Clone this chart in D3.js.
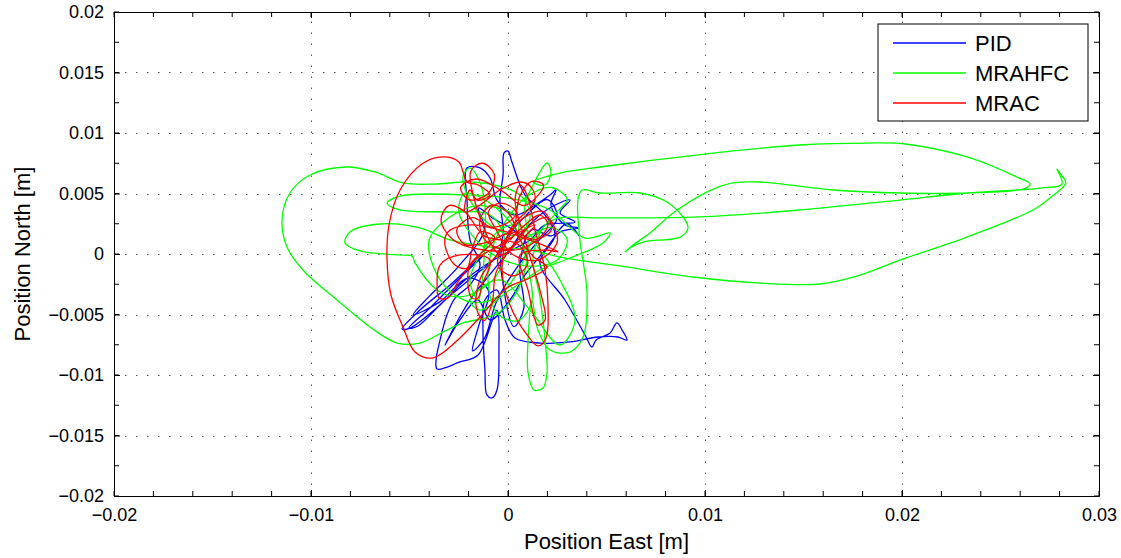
<!DOCTYPE html>
<html>
<head>
<meta charset="utf-8">
<script src="https://d3js.org/d3.v7.min.js"></script>
<style>
    body { margin: 0; background: #fff; }
    text { font-family: "Liberation Sans", Arial, Helvetica, sans-serif; fill: #000; }
    .gridLine { stroke: #555; stroke-width: 1; stroke-dasharray: 1.5,9.5; }
    .axis path, .axis line { stroke: #000; }
    .trace { fill: none; stroke-width: 1.3; stroke-linejoin: round; }
</style>
</head>
<body>
<script>
//data (position east, position north) in metres
var seriesNames = ["PID", "MRAHFC", "MRAC"];
var seriesColors = ["#0000ff", "#00ff00", "#ff0000"];

var xTicks = [-0.02, -0.01, 0, 0.01, 0.02, 0.03];
var yTicks = [-0.02, -0.015, -0.01, -0.005, 0, 0.005, 0.01, 0.015, 0.02];

var pidPath = [
    [0, 0], [0.00061, 0.00157], [0.00162, 0.00322], [0.00239, 0.00405], [0.00315, 0.00446],
    [0.00264, 0.00339], [0.0034, 0.00264], [0.00188, 0.0024], [0.00112, 0.00116], [0.0002, 0.00033],
    [-0.00091, -0.00066], [-0.00218, -0.00215], [-0.00345, -0.00421], [-0.00497, -0.00612], [-0.00538, -0.0062],
    [-0.00447, -0.00463], [-0.00294, -0.00256], [-0.00168, -0.00066], [-0.00127, -0.00017], [-0.00244, -0.00198],
    [-0.00396, -0.00446], [-0.00503, -0.00612], [-0.00457, -0.00595], [-0.0032, -0.0038], [-0.00168, -0.00174],
    [-0.00066, -0.00033], [-0.00025, 0.00157], [-0.00041, 0.00446], [-0.00025, 0.00653], [-0.0002, 0.00835],
    [0, 0.00851], [0.0002, 0.0076], [0.00086, 0.00488], [0.00188, 0.00322], [0.00239, 0.00157],
    [0.00162, -0.00074], [0.00289, -0.0038], [0.00391, -0.00669], [0.00426, -0.00769], [0.00447, -0.00711],
    [0.00518, -0.00653], [0.00553, -0.0057], [0.00579, -0.00628], [0.00604, -0.00711], [0.00558, -0.00686],
    [0.00457, -0.00686], [0.00315, -0.00727], [0.00162, -0.00736], [0.00036, -0.00694], [-0.00015, -0.00545],
    [-0.00056, -0.00298], [-0.00117, -0.0038], [-0.00127, -0.00628], [-0.00117, -0.00959], [-0.00107, -0.01165],
    [-0.00081, -0.0119], [-0.00056, -0.01124], [-0.00046, -0.00793], [-0.00056, -0.00463], [-0.00152, -0.00835],
    [-0.00244, -0.00892], [-0.0036, -0.0095], [-0.00365, -0.00876], [-0.00345, -0.00711], [-0.0031, -0.00504],
    [-0.00269, -0.00364], [-0.00193, -0.00256], [-0.00142, -0.00091], [-0.00193, 0.00116], [-0.00208, 0.00446],
    [-0.00208, 0.00711], [-0.00142, 0.00711], [-0.00091, 0.00628], [-0.00056, 0.00446], [0.00036, 0.00322],
    [0.00137, 0.00405], [0.00213, 0.00488], [0.00244, 0.00529], [0.00218, 0.00405], [0.00289, 0.0024],
    [0.00355, 0.00215], [0.00264, 0.00182], [0.00188, 0.00033], [0.00086, -0.00174], [0.0001, -0.0038],
    [-0.00091, -0.00545], [-0.00152, -0.0038], [-0.00244, -0.00545], [-0.0032, -0.00752], [-0.00193, -0.0038],
    [-0.00041, -0.00066], [0.0005, 0.0015], [-0.0008, 0.003], [-0.0015, 0.0038], [-0.0012, 0.002],
    [-0.0025, -0.001], [-0.004, -0.0035], [-0.0048, -0.005], [-0.0035, -0.004], [-0.002, -0.002],
    [-0.001, -0.003], [-0.0015, -0.006], [-0.0018, -0.008], [-0.0012, -0.007], [-0.0006, -0.004],
    [0.0005, -0.001], [0.0015, 0.001], [0.0025, 0.003], [0.002, 0.0045], [0.0008, 0.003],
    [-0.0003, 0.0005], [-0.0002, -0.003], [0.0003, -0.006], [0.0008, -0.0045], [0.0006, -0.001],
    [0.0012, 0.002], [0.0022, 0.0015], [0.003, 0.0025], [0.0036, 0.0015]
];

var mrahfcPath = [
    [0.00061, 0.00116], [0.00112, 0.00322], [0.00061, 0.00488], [-0.00066, 0.0057], [-0.00208, 0.00595],
    [-0.00371, 0.00578], [-0.00533, 0.00587], [-0.00675, 0.00678], [-0.00817, 0.00719], [-0.01005, 0.00653],
    [-0.01107, 0.00504], [-0.01147, 0.00281], [-0.01122, 0.00058], [-0.01041, -0.00132], [-0.00868, -0.0038],
    [-0.007, -0.00603], [-0.00563, -0.00736], [-0.00447, -0.00736], [-0.0033, -0.00645], [-0.00228, -0.0057],
    [-0.00117, -0.00529], [-0.00041, -0.00479], [0.00036, -0.00339], [0.00086, -0.00132], [0.00102, 0.00116],
    [0.00086, 0.00405], [0.00127, 0.0057], [0.00198, 0.00752], [0.00218, 0.00678], [0.00188, 0.0057],
    [0.00127, 0.00595], [0.00264, 0.00669], [0.00467, 0.00719], [0.01, 0.00826], [0.01482, 0.00901],
    [0.01822, 0.00917], [0.02015, 0.00909], [0.0233, 0.00802], [0.02584, 0.00636], [0.0265, 0.00578],
    [0.02614, 0.00537], [0.0233, 0.00504], [0.0199, 0.00504], [0.0165, 0.00529], [0.01279, 0.00595],
    [0.01142, 0.00587], [0.0101, 0.00512], [0.00838, 0.00339], [0.00721, 0.00174], [0.00635, 0.00074],
    [0.00594, 0.00017], [0.00619, 0.0005], [0.00685, 0.00099], [0.00873, 0.0014], [0.00914, 0.00215],
    [0.00888, 0.00306], [0.00807, 0.0043], [0.0067, 0.00504], [0.00467, 0.00504], [0.00376, 0.00529],
    [0.00355, 0.00446], [0.00365, 0.00116], [0.00401, -0.00322], [0.00381, -0.00686], [0.00315, -0.0081],
    [0.00213, -0.00793], [0.00152, -0.00628], [0.00122, -0.0038], [0.00102, -0.00711], [0.00102, -0.00983],
    [0.00132, -0.01124], [0.00178, -0.01107], [0.00198, -0.00983], [0.00188, -0.00711], [0.00162, -0.00355],
    [0.00127, -0.00033], [0.00188, 0.0024], [0.00264, 0.00298], [0.00467, 0.00298], [0.00975, 0.00306],
    [0.01482, 0.00364], [0.0199, 0.00446], [0.0233, 0.00504], [0.02701, 0.00545], [0.02812, 0.00578],
    [0.02787, 0.00702], [0.02812, 0.00645], [0.02832, 0.00587], [0.02751, 0.00463], [0.02665, 0.00364],
    [0.0233, 0.0014], [0.0199, -0.0005], [0.01787, -0.00174], [0.01584, -0.00248], [0.01279, -0.0024],
    [0.00939, -0.0019], [0.00569, -0.00099], [0.00264, -0.00025], [0.00112, 0.00033], [-0.00091, 0.00058],
    [-0.00294, 0.00116], [-0.00447, 0.00215], [-0.0065, 0.00248], [-0.00802, 0.00182], [-0.00827, 0.00091],
    [-0.00751, 0.00025], [-0.00548, -0.00008], [-0.00487, -0.00017], [-0.00472, -0.00074], [-0.0036, -0.00298],
    [-0.00259, -0.00355], [-0.00142, -0.00298], [-0.00041, -0.00132], [-0.00015, 0.00116], [-0.00091, 0.00322],
    [-0.00294, 0.00347], [-0.00548, 0.00364], [-0.00614, 0.00421], [-0.00548, 0.00479], [-0.00208, 0.00488],
    [0.00061, 0.00446], [0.00213, 0.00364], [0.00391, 0.00132], [0.00518, 0.00174], [0.00482, 0.00091],
    [0.00315, -0.00033], [0.00162, -0.00132], [0.0001, -0.00298], [-0.00142, -0.00463], [-0.00193, -0.0038],
    [-0.00041, -0.00215], [0.00112, -0.00463], [0.00264, -0.00752], [0.0034, -0.00545], [0.00264, -0.00215],
    [0.00162, 0.00033], [0.00061, 0.0024], [-0.00041, 0.00198], [-0.00142, -0.00008], [-0.00193, -0.00215],
    [-0.00152, -0.0038], [-0.00117, 0.00405], [-0.00152, 0.00628], [-0.00193, 0.00711], [-0.00228, 0.00645],
    [-0.00193, 0.00446], [-0.00091, 0.0024], [0.00036, 0.00157], [0.0005, 0.003], [-0.0015, 0.004],
    [-0.003, 0.003], [-0.004, 0.0012], [-0.0038, -0.001], [-0.003, -0.003], [-0.0018, -0.004],
    [-0.0005, -0.0035], [0.0005, -0.0015], [0.0012, 0.001], [0.0025, 0.0035], [0.003, 0.0045],
    [0.0022, 0.0055], [0.001, 0.0048], [0, 0.003], [-0.0008, 0.0005], [-0.001, -0.0025],
    [-0.0005, -0.005], [0.0005, -0.0055], [0.0012, -0.004], [0.001, -0.001], [0.0004, 0.002],
    [-0.0012, 0.0045], [-0.0022, 0.005], [-0.0025, 0.0035], [-0.0018, 0.0015], [-0.0006, -0.0002],
    [0.001, -0.001], [0.0025, -0.0005], [0.003, 0.0012], [0.0022, 0.0022], [0.0008, 0.0012]
];

var mracPath = [
    [0.0001, 0.00116], [0.00086, 0.0024], [0.00162, 0.00322], [0.00203, 0.0024], [0.00112, 0.00074],
    [-0.00015, 0.00033], [-0.00117, 0.00116], [-0.00142, 0.00281], [-0.00081, 0.00405], [0.0001, 0.00322],
    [0.00061, 0.00116], [0.00137, -0.00033], [0.00198, -0.00107], [0.00112, -0.00198], [-0.00005, -0.00281],
    [-0.00142, -0.00521], [-0.00244, -0.00694], [-0.00381, -0.00859], [-0.00472, -0.0081], [-0.00533, -0.00603],
    [-0.00594, -0.00339], [-0.00614, -0.0005], [-0.00604, 0.0024], [-0.00548, 0.00529], [-0.00437, 0.00744],
    [-0.0033, 0.00802], [-0.00249, 0.0076], [-0.00228, 0.00678], [-0.00208, 0.00595], [-0.00152, 0.0057],
    [-0.00091, 0.00488], [-0.00157, 0.00446], [-0.00193, 0.00529], [-0.00218, 0.00347], [-0.00142, 0.00405],
    [-0.00041, 0.00529], [0.00061, 0.00595], [0.00112, 0.00562], [0.00137, 0.00446], [0.0001, 0.00198],
    [-0.0003, -0.00132], [0.0001, -0.00421], [0.00097, -0.00669], [0.00152, -0.0076], [0.00193, -0.00694],
    [0.00203, -0.00421], [0.00188, -0.00132], [0.00137, 0.00198], [0.00097, 0.00488], [0.00061, 0.0057],
    [0.00036, 0.00446], [0.00086, 0.00116], [0.00162, -0.00298], [0.00188, -0.00545], [0.00152, -0.00587],
    [0.00102, -0.00298], [0.00061, -0.00008], [0.00188, 0.00033], [0.00254, 0.00017], [0.00162, 0.00083],
    [-0.00041, 0.00198], [-0.00193, 0.0024], [-0.00305, 0.00182], [-0.0032, 0.00074], [-0.00269, -0.00091],
    [-0.00208, -0.00116], [-0.00183, 0.00033], [-0.00142, 0.00182], [-0.00066, 0.00132], [-0.00193, -0.00091],
    [-0.00203, -0.00256], [-0.00183, -0.00364], [-0.00152, -0.00364], [-0.00132, -0.00256], [-0.00091, -0.0005],
    [-0.00244, -0.00008], [-0.00345, -0.00091], [-0.0036, -0.00256], [-0.0035, -0.00364], [-0.00305, -0.00364],
    [-0.00254, -0.00231], [-0.00168, -0.0005], [-0.00041, 0.00074], [0.00061, 0.00182], [0.00137, 0.0024],
    [0.00036, 0.00074], [-0.00041, -0.00008], [-0.0019, 0.0068], [-0.0013, 0.0075], [-0.0007, 0.0066],
    [-0.001, 0.005], [-0.002, 0.0045], [-0.0024, 0.0055], [-0.0016, 0.0062], [-0.0003, 0.0052],
    [0.0008, 0.004], [0.0015, 0.0048], [0.0018, 0.0057], [0.0012, 0.006], [0.0006, 0.0048],
    [0.0003, 0.003], [-0.0008, 0.0022], [-0.0018, 0.003], [-0.0026, 0.002], [-0.0022, 0.0008],
    [-0.001, 0.001], [0.0002, 0.0018], [0.0014, 0.0012], [0.0022, 0.002], [0.0018, 0.0035],
    [0.0008, 0.003], [-0.0002, 0.001], [-0.0005, -0.001], [0.0003, -0.0018], [0.001, -0.0008],
    [0.0005, 0.0008], [-0.0012, 0.0015], [-0.0022, 0.0035], [-0.003, 0.004], [-0.0034, 0.0028],
    [-0.0028, 0.0012], [-0.0015, 0.0004], [0, 0.0004], [0.0012, 0.0025], [0.002, 0.003],
    [0.0025, 0.001], [0.0015, -0.0005], [0.0002, 0], [-0.0006, 0.002], [-0.001, 0.0035],
    [-0.0004, 0.0042], [0.0004, 0.0035], [0, 0.0012], [-0.0014, -0.002], [-0.0016, -0.0045],
    [-0.0012, -0.0055], [-0.0008, -0.004], [-0.0006, -0.0015], [0.0004, 0.001]
];

var allPaths = [pidPath, mrahfcPath, mracPath];

window.onload = setChart();

function setChart(){
    //figure and axes frame
    var width = 1121,
        height = 558,
        left = 114,
        right = 1099,
        top = 12,
        bottom = 496;

    var svg = d3.select("body")
        .append("svg")
        .attr("width", width)
        .attr("height", height);

    var x = d3.scaleLinear().domain([-0.02, 0.03]).range([left, right]);
    var y = d3.scaleLinear().domain([-0.02, 0.02]).range([bottom, top]);

    //minor ticks
    var xMinor = d3.range(-0.02, 0.0301, 0.002).map(function(v){ return +v.toFixed(4); });
    var yMinor = d3.range(-0.02, 0.0201, 0.0025).map(function(v){ return +v.toFixed(4); });

    //dotted grid at major ticks
    svg.selectAll(".gridX")
        .data(xTicks.slice(1, -1))
        .enter()
        .append("line")
        .attr("class", "gridLine")
        .attr("x1", function(d){ return Math.round(x(d)) + 0.5; })
        .attr("x2", function(d){ return Math.round(x(d)) + 0.5; })
        .attr("y1", bottom)
        .attr("y2", top);

    svg.selectAll(".gridY")
        .data(yTicks.slice(1, -1))
        .enter()
        .append("line")
        .attr("class", "gridLine")
        .attr("y1", function(d){ return Math.round(y(d)) + 0.5; })
        .attr("y2", function(d){ return Math.round(y(d)) + 0.5; })
        .attr("x1", left)
        .attr("x2", right);

    //trajectories, PID first so MRAC ends on top
    var line = d3.line()
        .x(function(d){ return x(d[0]); })
        .y(function(d){ return y(d[1]); })
        .curve(d3.curveCatmullRom.alpha(0.5));

    svg.selectAll(".trace")
        .data(allPaths)
        .enter()
        .append("path")
        .attr("class", "trace")
        .attr("stroke", function(d, i){ return seriesColors[i]; })
        .attr("d", line);

    var fmt = function(d){ return d3.format("~g")(d); };

    //axes with inward ticks, box on all sides
    var bottomAxis = svg.append("g")
        .attr("class", "axis")
        .attr("transform", "translate(0," + bottom + ")")
        .call(d3.axisBottom(x).tickValues(xTicks).tickFormat(fmt).tickSizeInner(-6).tickSizeOuter(0).tickPadding(12));
    bottomAxis.append("g").selectAll("line")
        .data(xMinor).enter().append("line")
        .attr("x1", function(d){ return x(d); }).attr("x2", function(d){ return x(d); })
        .attr("y1", 0).attr("y2", -5).attr("stroke", "#000");

    var topAxis = svg.append("g")
        .attr("class", "axis")
        .attr("transform", "translate(0," + top + ")")
        .call(d3.axisTop(x).tickValues(xTicks).tickFormat("").tickSizeInner(-6).tickSizeOuter(0));
    topAxis.append("g").selectAll("line")
        .data(xMinor).enter().append("line")
        .attr("x1", function(d){ return x(d); }).attr("x2", function(d){ return x(d); })
        .attr("y1", 0).attr("y2", 5).attr("stroke", "#000");

    var leftAxis = svg.append("g")
        .attr("class", "axis")
        .attr("transform", "translate(" + left + ",0)")
        .call(d3.axisLeft(y).tickValues(yTicks).tickFormat(fmt).tickSizeInner(-6).tickSizeOuter(0).tickPadding(10));
    leftAxis.append("g").selectAll("line")
        .data(yMinor).enter().append("line")
        .attr("y1", function(d){ return y(d); }).attr("y2", function(d){ return y(d); })
        .attr("x1", 0).attr("x2", 5).attr("stroke", "#000");

    var rightAxis = svg.append("g")
        .attr("class", "axis")
        .attr("transform", "translate(" + right + ",0)")
        .call(d3.axisRight(y).tickValues(yTicks).tickFormat("").tickSizeInner(-6).tickSizeOuter(0));
    rightAxis.append("g").selectAll("line")
        .data(yMinor).enter().append("line")
        .attr("y1", function(d){ return y(d); }).attr("y2", function(d){ return y(d); })
        .attr("x1", 0).attr("x2", -5).attr("stroke", "#000");

    svg.selectAll(".axis text").style("font-size", "18px").style("font-family", "'Liberation Sans', Arial, sans-serif");

    //axis titles
    svg.append("text")
        .attr("x", (left + right) / 2)
        .attr("y", 549)
        .attr("text-anchor", "middle")
        .style("font-size", "22px")
        .text("Position East [m]");

    svg.append("text")
        .attr("transform", "translate(30," + ((top + bottom) / 2) + ") rotate(-90)")
        .attr("text-anchor", "middle")
        .style("font-size", "22px")
        .text("Position North [m]");

    //legend
    var legend = svg.append("g").attr("class", "legend");
    legend.append("rect")
        .attr("x", 878)
        .attr("y", 24)
        .attr("width", 210)
        .attr("height", 97)
        .attr("fill", "#fff")
        .attr("stroke", "#000");

    var rows = legend.selectAll(".row")
        .data(seriesNames)
        .enter()
        .append("g")
        .attr("transform", function(d, i){ return "translate(0," + (43 + i * 30) + ")"; });

    rows.append("line")
        .attr("x1", 893)
        .attr("x2", 966)
        .attr("stroke", function(d, i){ return seriesColors[i]; })
        .attr("stroke-width", 1.3);

    rows.append("text")
        .attr("x", 975)
        .attr("dy", "0.36em")
        .style("font-size", "22px")
        .text(function(d){ return d; });
}
</script>
</body>
</html>
